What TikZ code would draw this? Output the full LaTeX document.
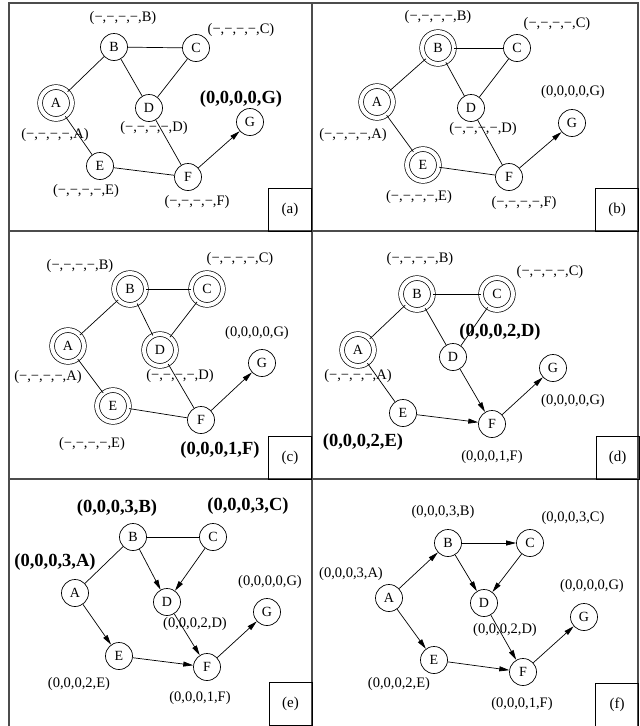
\documentclass[tikz,border=0pt]{standalone}
\usepackage{fontspec}
\setmainfont{Liberation Serif}
\usetikzlibrary{arrows.meta}

\newcommand{\dashlbl}[1]{(−,−,−,−,#1)}

\tikzset{
    vtx/.style={circle, draw, line width=0.7pt, minimum size=27pt, inner sep=0pt, font=\fontsize{14}{16}\selectfont},
    seen/.style={vtx, double, double distance=4.1pt, minimum size=31.8pt},
    lbl/.style={inner sep=0pt, font=\fontsize{14.5}{17}\selectfont},
    blbl/.style={inner sep=0pt, font=\fontsize{18.5}{21}\selectfont\bfseries},
    tag/.style={draw, line width=0.7pt, minimum width=43pt, minimum height=43pt, inner sep=0pt, font=\fontsize{15}{17}\selectfont},
    edge/.style={line width=0.7pt},
    arr/.style={line width=0.7pt, -{Triangle[length=10pt,width=5pt]}},
    frame/.style={draw=gray!60!black, line width=1.3pt}
}

\begin{document}
\begin{tikzpicture}[x=1pt, y=-1pt]
    \useasboundingbox (0,0) rectangle (640,726);
    % Frame of the six panels
    \draw[frame] (9,726) -- (9,3) -- (638,3) -- (638,726);
    \draw[frame] (312,3) -- (312,726);
    \draw[frame] (9,231) -- (638,231);
    \draw[frame] (9,479) -- (638,479);

    % Panel (a)
    \node[seen] (aA) at (56,103) {A};
    \node[vtx] (aB) at (114,47) {B};
    \node[vtx] (aC) at (196,48) {C};
    \node[vtx] (aD) at (149,108) {D};
    \node[vtx] (aE) at (100,166) {E};
    \node[vtx] (aF) at (188,177) {F};
    \node[vtx] (aG) at (250,122) {G};
    \draw[edge] (aA) -- (aB);
    \draw[edge] (aB) -- (aC);
    \draw[edge] (aB) -- (aD);
    \draw[edge] (aC) -- (aD);
    \draw[edge] (aA) -- (aE);
    \draw[edge] (aE) -- (aF);
    \draw[edge] (aD) -- (aF);
    \draw[arr] (aF) -- (aG);
    \node[lbl] (aBl) at (123,18) {\dashlbl{B}};
    \node[lbl] (aCl) at (241,30) {\dashlbl{C}};
    \node[blbl] (aGl) at (241,99) {(0,0,0,0,G)};
    \node[lbl] (aAl) at (55,135) {\dashlbl{A}};
    \node[lbl] (aDl) at (154,128) {\dashlbl{D}};
    \node[lbl] (aEl) at (86,191) {\dashlbl{E}};
    \node[lbl] (aFl) at (197,202) {\dashlbl{F}};
    \node[tag] (atag) at (290,209.5) {(a)};

    % Panel (b)
    \node[seen] (bA) at (377,102) {A};
    \node[seen] (bB) at (438,48) {B};
    \node[vtx] (bC) at (517,48) {C};
    \node[vtx] (bD) at (471,108) {D};
    \node[seen] (bE) at (423,165) {E};
    \node[vtx] (bF) at (509,177) {F};
    \node[vtx] (bG) at (572,123) {G};
    \draw[edge] (bA) -- (bB);
    \draw[edge] (bB) -- (bC);
    \draw[edge] (bB) -- (bD);
    \draw[edge] (bC) -- (bD);
    \draw[edge] (bA) -- (bE);
    \draw[edge] (bE) -- (bF);
    \draw[edge] (bD) -- (bF);
    \draw[arr] (bF) -- (bG);
    \node[lbl] (bBl) at (438,17) {\dashlbl{B}};
    \node[lbl] (bCl) at (557,24) {\dashlbl{C}};
    \node[lbl] (bGl) at (573,92) {(0,0,0,0,G)};
    \node[lbl] (bAl) at (353,135) {\dashlbl{A}};
    \node[lbl] (bDl) at (483,129) {\dashlbl{D}};
    \node[lbl] (bEl) at (419,197) {\dashlbl{E}};
    \node[lbl] (bFl) at (524,203) {\dashlbl{F}};
    \node[tag] (btag) at (617,209.5) {(b)};

    % Panel (c)
    \node[seen] (cA) at (68,346) {A};
    \node[seen] (cB) at (130,289) {B};
    \node[seen] (cC) at (207,289) {C};
    \node[seen] (cD) at (160,350) {D};
    \node[seen] (cE) at (113,406) {E};
    \node[vtx] (cF) at (201,420) {F};
    \node[vtx] (cG) at (262,363) {G};
    \draw[edge] (cA) -- (cB);
    \draw[edge] (cB) -- (cC);
    \draw[edge] (cB) -- (cD);
    \draw[edge] (cC) -- (cD);
    \draw[edge] (cA) -- (cE);
    \draw[edge] (cE) -- (cF);
    \draw[edge] (cD) -- (cF);
    \draw[arr] (cF) -- (cG);
    \node[lbl] (cBl) at (80,266) {\dashlbl{B}};
    \node[lbl] (cCl) at (240,259) {\dashlbl{C}};
    \node[lbl] (cGl) at (257,333) {(0,0,0,0,G)};
    \node[lbl] (cAl) at (48,377) {\dashlbl{A}};
    \node[lbl] (cDl) at (180,376) {\dashlbl{D}};
    \node[lbl] (cEl) at (92,444) {\dashlbl{E}};
    \node[blbl] (cFl) at (220,450) {(0,0,0,1,F)};
    \node[tag] (ctag) at (290,457.5) {(c)};

    % Panel (d)
    \node[seen] (dA) at (358,350) {A};
    \node[seen] (dB) at (417,294) {B};
    \node[seen] (dC) at (497,294) {C};
    \node[vtx] (dD) at (453,357) {D};
    \node[vtx] (dE) at (403,413) {E};
    \node[vtx] (dF) at (492,424) {F};
    \node[vtx] (dG) at (553,368) {G};
    \draw[edge] (dA) -- (dB);
    \draw[edge] (dB) -- (dC);
    \draw[edge] (dB) -- (dD);
    \draw[edge] (dC) -- (dD);
    \draw[edge] (dA) -- (dE);
    \draw[arr] (dE) -- (dF);
    \draw[arr] (dD) -- (dF);
    \draw[arr] (dF) -- (dG);
    \node[lbl] (dBl) at (420,259) {\dashlbl{B}};
    \node[lbl] (dCl) at (550,272) {\dashlbl{C}};
    \node[blbl] (dDl) at (500,332) {(0,0,0,2,D)};
    \node[lbl] (dAl) at (358,376) {\dashlbl{A}};
    \node[lbl] (dGl) at (573,401) {(0,0,0,0,G)};
    \node[blbl] (dEl) at (363,442) {(0,0,0,2,E)};
    \node[lbl] (dFl) at (492,457) {(0,0,0,1,F)};
    \node[tag] (dtag) at (617.5,457.5) {(d)};

    % Panel (e)
    \node[vtx] (eA) at (75,593) {A};
    \node[vtx] (eB) at (133,537) {B};
    \node[vtx] (eC) at (213,537) {C};
    \node[vtx] (eD) at (167,602) {D};
    \node[vtx] (eE) at (119,656) {E};
    \node[vtx] (eF) at (207,667) {F};
    \node[vtx] (eG) at (267,612) {G};
    \draw[edge] (eA) -- (eB);
    \draw[edge] (eB) -- (eC);
    \draw[arr] (eB) -- (eD);
    \draw[arr] (eC) -- (eD);
    \draw[arr] (eA) -- (eE);
    \draw[arr] (eE) -- (eF);
    \draw[arr] (eD) -- (eF);
    \draw[arr] (eF) -- (eG);
    \node[blbl] (eBl) at (117,508) {(0,0,0,3,B)};
    \node[blbl] (eCl) at (248,506) {(0,0,0,3,C)};
    \node[blbl] (eAl) at (55,562) {(0,0,0,3,A)};
    \node[lbl] (eGl) at (270,582) {(0,0,0,0,G)};
    \node[lbl] (eDl) at (195,624) {(0,0,0,2,D)};
    \node[lbl] (eEl) at (79,684) {(0,0,0,2,E)};
    \node[lbl] (eFl) at (200,698) {(0,0,0,1,F)};
    \node[tag] (etag) at (290.5,704) {(e)};

    % Panel (f)
    \node[vtx] (fA) at (389,598) {A};
    \node[vtx] (fB) at (448,543) {B};
    \node[vtx] (fC) at (530,543) {C};
    \node[vtx] (fD) at (484,603) {D};
    \node[vtx] (fE) at (434,660) {E};
    \node[vtx] (fF) at (523,672) {F};
    \node[vtx] (fG) at (584,617) {G};
    \draw[arr] (fA) -- (fB);
    \draw[arr] (fB) -- (fC);
    \draw[arr] (fB) -- (fD);
    \draw[arr] (fC) -- (fD);
    \draw[arr] (fA) -- (fE);
    \draw[arr] (fE) -- (fF);
    \draw[arr] (fD) -- (fF);
    \draw[arr] (fF) -- (fG);
    \node[lbl] (fBl) at (443,512) {(0,0,0,3,B)};
    \node[lbl] (fCl) at (573,518) {(0,0,0,3,C)};
    \node[lbl] (fAl) at (351,574) {(0,0,0,3,A)};
    \node[lbl] (fGl) at (592,586) {(0,0,0,0,G)};
    \node[lbl] (fDl) at (505,630) {(0,0,0,2,D)};
    \node[lbl] (fEl) at (399,684) {(0,0,0,2,E)};
    \node[lbl] (fFl) at (522,704) {(0,0,0,1,F)};
    \node[tag] (ftag) at (617,704.5) {(f)};
\end{tikzpicture}
\end{document}
